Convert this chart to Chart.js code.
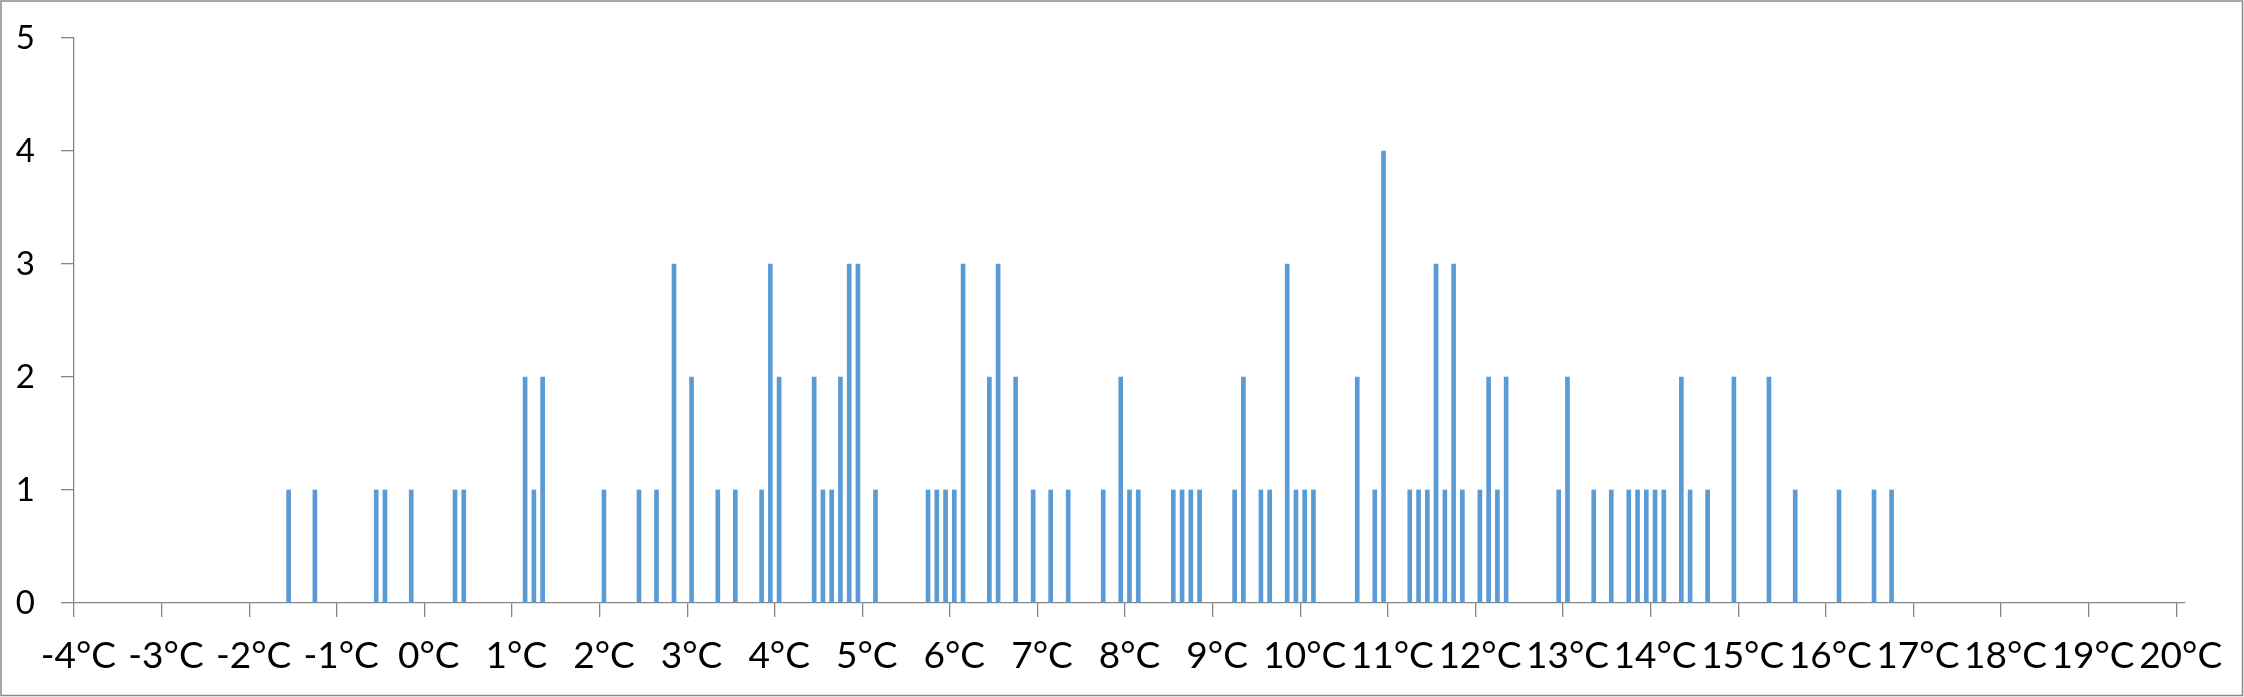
<!DOCTYPE html>
<html>
<head>
<meta charset="utf-8">
<script src="https://cdn.jsdelivr.net/npm/chart.js@4/dist/chart.umd.min.js"></script>
<style>
  html, body { margin: 0; padding: 0; background: #fff; }
  #wrap { position: relative; width: 2244px; height: 697px; }
</style>
</head>
<body>
<div id="wrap"><canvas id="tempChart"></canvas></div>
<script>
// temperature bins (°C) that have at least one occurrence, and their counts
const temps = [
  -1.6, -1.3, -0.6, -0.5, -0.2, 0.3, 0.4, 1.1, 1.2, 1.3,
  2.0, 2.4, 2.6, 2.8, 3.0, 3.3, 3.5, 3.8, 3.9, 4.0,
  4.4, 4.5, 4.6, 4.7, 4.8, 4.9, 5.1, 5.7, 5.8, 5.9,
  6.0, 6.1, 6.4, 6.5, 6.7, 6.9, 7.1, 7.3, 7.7, 7.9,
  8.0, 8.1, 8.5, 8.6, 8.7, 8.8, 9.2, 9.3, 9.5, 9.6,
  9.8, 9.9, 10.0, 10.1, 10.6, 10.8, 10.9, 11.2, 11.3, 11.4,
  11.5, 11.6, 11.7, 11.8, 12.0, 12.1, 12.2, 12.3, 12.9, 13.0,
  13.3, 13.5, 13.7, 13.8, 13.9, 14.0, 14.1, 14.3, 14.4, 14.6,
  14.9, 15.3, 15.6, 16.1, 16.5, 16.7
];
const counts = [
  1, 1, 1, 1, 1, 1, 1, 2, 1, 2,
  1, 1, 1, 3, 2, 1, 1, 1, 3, 2,
  2, 1, 1, 2, 3, 3, 1, 1, 1, 1,
  1, 3, 2, 3, 2, 1, 1, 1, 1, 2,
  1, 1, 1, 1, 1, 1, 1, 2, 1, 1,
  3, 1, 1, 1, 2, 1, 4, 1, 1, 1,
  3, 1, 3, 1, 1, 2, 1, 2, 1, 2,
  1, 1, 1, 1, 1, 1, 1, 2, 1, 1,
  2, 2, 1, 1, 1, 1
];
const tickValues = [-4, -3, -2, -1, 0, 1, 2, 3, 4, 5, 6, 7, 8, 9, 10, 11, 12, 13, 14, 15, 16, 17, 18, 19, 20];
const tickLabels = ['-4°C', '-3°C', '-2°C', '-1°C', '0°C', '1°C', '2°C', '3°C', '4°C', '5°C', '6°C', '7°C',
  '8°C', '9°C', '10°C', '11°C', '12°C', '13°C', '14°C', '15°C', '16°C', '17°C', '18°C', '19°C', '20°C'];
const binWidth = 0.1;

const axisGrey = '#868686';

// chart frame like the spreadsheet chart area
const frame = {
  id: 'frame',
  afterDraw(chart) {
    const c = chart.ctx;
    c.save();
    c.strokeStyle = '#898989';
    c.lineWidth = 1.5;
    c.strokeRect(1, 1, chart.width - 2.5, chart.height - 2.5);
    c.restore();
  }
};

new Chart(document.getElementById('tempChart'), {
  type: 'bar',
  data: {
    datasets: [{
      data: temps.map((t, i) => ({x: t, y: counts[i]})),
      backgroundColor: '#5B9BD5',
      borderWidth: 0,
      barThickness: 4
    }]
  },
  options: {
    responsive: true,
    maintainAspectRatio: false,
    animation: false,
    layout: {padding: {top: 38, right: 59, bottom: 0, left: 0}},
    plugins: {legend: {display: false}, tooltip: {enabled: false}},
    scales: {
      x: {
        type: 'linear',
        offset: false,
        min: tickValues[0] - binWidth / 2,
        max: tickValues[tickValues.length - 1] + binWidth / 2,
        afterBuildTicks: s => { s.ticks = tickValues.map(v => ({value: v - binWidth / 2})); },
        afterFit: s => { s.height = 94; s.paddingLeft = 0; s.paddingRight = 0; },
        border: {color: axisGrey, width: 1.3},
        grid: {offset: false, drawOnChartArea: false, color: axisGrey, tickLength: 14, lineWidth: 1.3},
        ticks: {
          autoSkip: false, maxRotation: 0, minRotation: 0,
          labelOffset: 4.4, padding: 17,
          color: '#000',
          font: {family: 'Lato', size: 37},
          callback: (v, i) => tickLabels[i]
        }
      },
      y: {
        min: 0, max: 5,
        afterFit: s => { s.width = 74; s.paddingTop = 0; s.paddingBottom = 0; },
        border: {color: axisGrey, width: 1.3},
        grid: {drawOnChartArea: false, color: axisGrey, tickLength: 13, lineWidth: 1.3},
        ticks: {
          stepSize: 1, padding: 26,
          color: '#000',
          font: {family: 'Lato', size: 33}
        }
      }
    }
  },
  plugins: [frame]
});
</script>
</body>
</html>
